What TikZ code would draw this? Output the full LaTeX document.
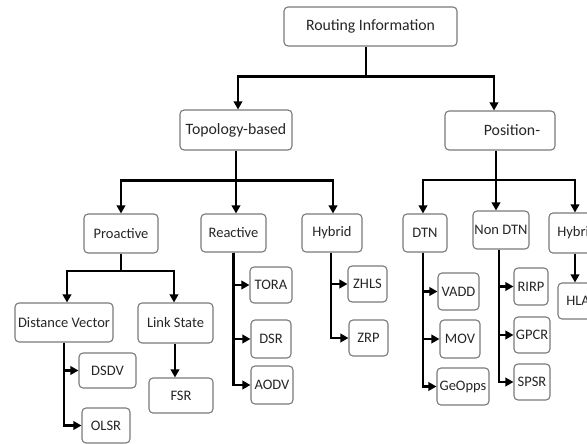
\documentclass[tikz,border=0pt]{standalone}
\usepackage{fontspec}
\setmainfont{Carlito}
\usetikzlibrary{arrows.meta}
\definecolor{boxline}{HTML}{7A7A7A}
\definecolor{txt}{HTML}{262626}
\begin{document}
\begin{tikzpicture}[x=1pt,y=-1pt,
  box/.style={draw=boxline, line width=1.1pt, rounded corners=4pt, fill=white,
    inner sep=0pt, text=txt, font=\fontsize{14.5}{16}\selectfont, align=center},
  topbox/.style={box, font=\fontsize{15.8}{18}\selectfont},
  conn/.style={line width=2.4pt, black},
  arr/.style={conn, -{Triangle[length=8pt,width=8.5pt]}}]
\useasboundingbox (0,0) rectangle (587,444);
\clip (0,0) rectangle (587,444);

% level 0 and 1
\node[topbox, minimum width=173pt, minimum height=39pt] (root) at (370.5,26.5) {Routing Information};
\node[topbox, minimum width=112pt, minimum height=40pt] (topo) at (236,130) {Topology-based};
\node[topbox, minimum width=110pt, minimum height=39pt] (pos) at (500,130.5) {\hspace*{24pt}Position-};

% level 2
\node[box, minimum width=74pt, minimum height=39pt] (pro) at (121,233.5) {Proactive};
\node[box, minimum width=65pt, minimum height=38pt] (reac) at (233.5,233) {Reactive};
\node[box, minimum width=60pt, minimum height=38pt] (hyb) at (332,233) {Hybrid};
\node[box, minimum width=44pt, minimum height=38pt] (dtn) at (425,233) {DTN};
\node[box, minimum width=56pt, minimum height=38pt] (ndtn) at (501,230) {Non DTN};
\node[box, minimum width=56pt, minimum height=40pt] (hybb) at (577,233) {Hybrid};

% level 3
\node[box, minimum width=98pt, minimum height=39pt] (dv) at (64,322.5) {Distance Vector};
\node[box, minimum width=75pt, minimum height=40pt] (ls) at (175.5,323) {Link State};
\node[box, minimum width=57pt, minimum height=35pt] (dsdv) at (107.5,370.5) {DSDV};
\node[box, minimum width=48pt, minimum height=35pt] (olsr) at (106,425.5) {OLSR};
\node[box, minimum width=64pt, minimum height=35pt] (fsr) at (181,395.5) {FSR};
\node[box, minimum width=42pt, minimum height=36pt] (tora) at (271,285) {TORA};
\node[box, minimum width=40pt, minimum height=38pt] (dsr) at (271,339) {DSR};
\node[box, minimum width=42pt, minimum height=38pt] (aodv) at (272,385) {AODV};
\node[box, minimum width=39pt, minimum height=36pt] (zhls) at (367.5,284) {ZHLS};
\node[box, minimum width=39pt, minimum height=36pt] (zrp) at (368.5,338) {ZRP};
\node[box, minimum width=41pt, minimum height=37pt] (vadd) at (458.5,291.5) {VADD};
\node[box, minimum width=40pt, minimum height=38pt] (mov) at (460,339) {MOV};
\node[box, minimum width=52pt, minimum height=37pt] (geo) at (463,386.5) {GeOpps};
\node[box, minimum width=34pt, minimum height=37pt] (rirp) at (531,286.5) {RIRP};
\node[box, minimum width=36pt, minimum height=36pt] (gpcr) at (532,335) {GPCR};
\node[box, minimum width=36pt, minimum height=36pt] (spsr) at (532,382) {SPSR};
\node[box, minimum width=48pt, minimum height=36pt] (hlar) at (582,301) {HLAR};

% root -> level 1
\draw[conn] ([xshift=-4.5pt]root.south) -- ++(0,30) coordinate (j0);
\draw[arr] (j0) -| ([xshift=2pt]topo.north);
\draw[arr] (j0) -| ([xshift=-6pt]pos.north);

% topology -> level 2
\draw[conn] (topo.south) -- ++(0,30) coordinate (j1);
\draw[arr] (j1) -| (pro.north);
\draw[arr] (j1) -| ([xshift=2.5pt]reac.north);
\draw[arr] (j1) -| ([xshift=1pt]hyb.north);

% position -> level 2
\draw[conn] ([xshift=-4pt]pos.south) -- ++(0,29.5) coordinate (j2);
\draw[arr] (j2) -| ([xshift=-2pt]dtn.north);
\draw[arr] (j2) -| ([xshift=-5pt]ndtn.north);
\draw[arr] (j2) -| ([xshift=-2pt]hybb.north);

% proactive -> level 3
\draw[conn] (pro.south) -- ++(0,17.5) coordinate (j3);
\draw[arr] (j3) -| ([xshift=3pt]dv.north);
\draw[arr] (j3) -| ([xshift=-1.5pt]ls.north);

% distance vector
\draw[arr] (dv.south) |- (dsdv.west);
\draw[arr] (dv.south) |- (olsr.west);
% link state
\draw[arr] ([xshift=-0.5pt]ls.south) -- ([xshift=-0.5pt]ls.south |- fsr.north);
% reactive
\draw[arr] (reac.south) |- (tora.west);
\draw[arr] (reac.south) |- (dsr.west);
\draw[arr] (reac.south) |- (aodv.west);
% hybrid
\draw[arr] ([xshift=-1pt]hyb.south) |- (zhls.west);
\draw[arr] ([xshift=-1pt]hyb.south) |- (zrp.west);
% DTN
\draw[arr] ([xshift=-2pt]dtn.south) |- (vadd.west);
\draw[arr] ([xshift=-2pt]dtn.south) |- (mov.west);
\draw[arr] ([xshift=-2pt]dtn.south) |- (geo.west);
% Non DTN
\draw[arr] ([xshift=-2pt]ndtn.south) |- (rirp.west);
\draw[arr] ([xshift=-2pt]ndtn.south) |- (gpcr.west);
\draw[arr] ([xshift=-2pt]ndtn.south) |- (spsr.west);
% hybrid (position)
\draw[arr] ([xshift=-2pt]hybb.south) -- ([xshift=-2pt]hybb.south |- hlar.north);
\end{tikzpicture}
\end{document}
